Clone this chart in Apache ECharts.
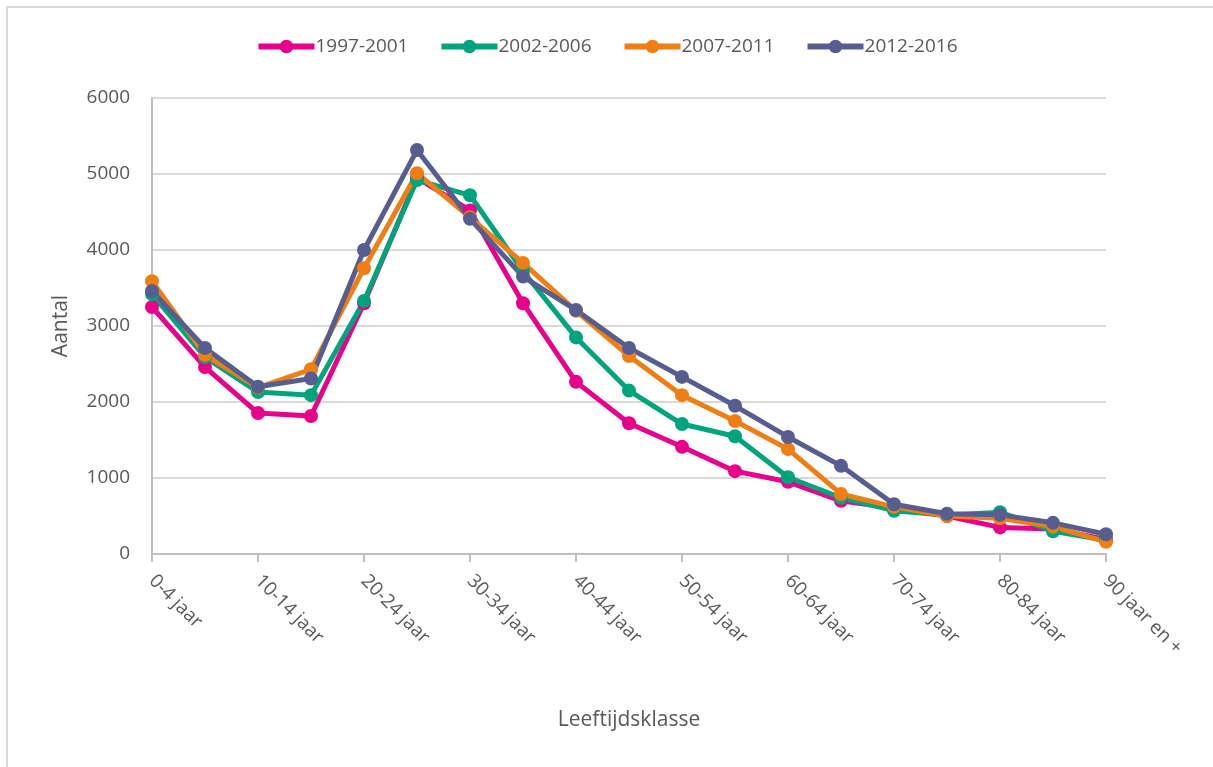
<!DOCTYPE html>
<html>
<head>
<meta charset="utf-8">
<script src="https://cdn.jsdelivr.net/npm/echarts@6/dist/echarts.min.js"></script>
<style>
  html, body { margin: 0; padding: 0; background: #fff; }
  #chart { width: 1213px; height: 767px; }
</style>
</head>
<body>
<div id="chart"></div>
<script>
const categories = [
  '0-4 jaar', '5-9 jaar', '10-14 jaar', '15-19 jaar', '20-24 jaar', '25-29 jaar',
  '30-34 jaar', '35-39 jaar', '40-44 jaar', '45-49 jaar', '50-54 jaar', '55-59 jaar',
  '60-64 jaar', '65-69 jaar', '70-74 jaar', '75-79 jaar', '80-84 jaar', '85-89 jaar',
  '90 jaar en +'
];
const seriesNames = ['1997-2001', '2002-2006', '2007-2011', '2012-2016'];
const p1997 = [3250, 2460, 1855, 1815, 3300, 4950, 4520, 3300, 2265, 1720, 1410, 1090, 950, 700, 600, 500, 350, 330, 190];
const p2002 = [3420, 2590, 2130, 2090, 3330, 4920, 4720, 3720, 2850, 2150, 1710, 1550, 1010, 740, 570, 510, 550, 300, 180];
const p2007 = [3590, 2620, 2190, 2430, 3760, 5010, 4430, 3830, 3200, 2605, 2090, 1750, 1380, 790, 620, 500, 470, 360, 160];
const p2012 = [3460, 2710, 2200, 2310, 4000, 5315, 4410, 3650, 3210, 2710, 2330, 1950, 1540, 1160, 655, 530, 515, 410, 260];
const yTicks = { min: 0, max: 6000, interval: 1000 };

const colors = ['#E8008A', '#00A47C', '#EF7F14', '#575E8F'];
const values = [p1997, p2002, p2007, p2012];

const chart = echarts.init(document.getElementById('chart'));
const font = '"Open Sans", sans-serif';

const series = seriesNames.map((name, i) => ({
  name,
  type: 'line',
  data: values[i],
  symbol: 'circle',
  symbolSize: 14,
  lineStyle: { width: 5, color: colors[i] },
  itemStyle: { color: colors[i] }
}));

chart.setOption({
  animation: false,
  textStyle: { fontFamily: font },
  graphic: [{
    type: 'rect',
    shape: { x: 7, y: 7, width: 1220, height: 780 },
    style: { fill: 'none', stroke: '#D9D9D9', lineWidth: 2 },
    silent: true
  }],
  legend: {
    top: 32,
    left: 'center',
    itemWidth: 56,
    itemHeight: 17,
    itemGap: 30,
    lineStyle: { width: 6 },
    textStyle: { color: '#595959', fontSize: 19, fontFamily: font, padding: [0, 0, 0, -4] },
    data: seriesNames
  },
  grid: { left: 152, right: 107, top: 98, bottom: 213 },
  xAxis: {
    type: 'category',
    data: categories,
    boundaryGap: false,
    name: 'Leeftijdsklasse',
    nameLocation: 'middle',
    nameGap: 156,
    nameTextStyle: { color: '#595959', fontSize: 21, fontFamily: font },
    axisLine: { lineStyle: { color: '#BFBFBF', width: 2 } },
    axisTick: { show: true, interval: 1, length: 8, lineStyle: { color: '#BFBFBF', width: 2 } },
    axisLabel: { interval: 1, rotate: -45, color: '#595959', fontSize: 19, fontFamily: font, margin: 24 },
    splitLine: { show: false }
  },
  yAxis: {
    type: 'value',
    min: yTicks.min,
    max: yTicks.max,
    interval: yTicks.interval,
    name: 'Aantal',
    nameLocation: 'middle',
    nameGap: 80,
    nameTextStyle: { color: '#595959', fontSize: 21, fontFamily: font },
    axisLine: { show: true, lineStyle: { color: '#BFBFBF', width: 2 } },
    axisTick: { show: false },
    axisLabel: { color: '#595959', fontSize: 19, fontFamily: font, margin: 22, formatter: v => String(v) },
    splitLine: { lineStyle: { color: '#D9D9D9', width: 2 } }
  },
  series
});
</script>
</body>
</html>
